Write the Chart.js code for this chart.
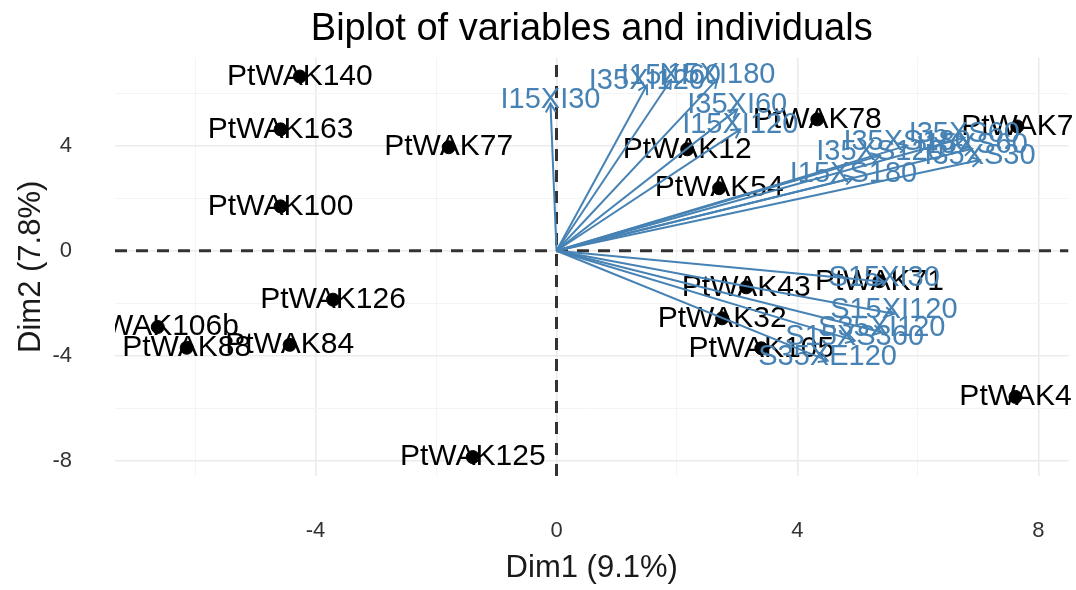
<!DOCTYPE html>
<html>
<head>
<meta charset="utf-8">
<script src="https://cdn.jsdelivr.net/npm/chart.js@4.4.1/dist/chart.umd.min.js"></script>
<style>
html, body { margin: 0; padding: 0; background: #fff; }
#wrap { width: 1076px; height: 590px; }
</style>
</head>
<body>
<div id="wrap"><canvas id="biplot"></canvas></div>
<script>
// Individuals (Dim1, Dim2)
const indNames = ['PtWAK140', 'PtWAK163', 'PtWAK77', 'PtWAK100', 'PtWAK126', 'PtWAK106b', 'PtWAK88', 'PtWAK84', 'PtWAK125',
    'PtWAK12', 'PtWAK54', 'PtWAK78', 'PtWAK7', 'PtWAK71', 'PtWAK43', 'PtWAK32', 'PtWAK105', 'PtWAK4'];
const indX = [-4.26, -4.58, -1.79, -4.58, -3.71, -6.62, -6.14, -4.43, -1.39, 2.17, 2.70, 4.33, 7.65, 5.36, 3.15, 2.75, 3.40, 7.62];
const indY = [6.63, 4.62, 3.94, 1.69, -1.86, -2.90, -3.69, -3.58, -7.85, 3.86, 2.38, 5.00, 4.73, -1.16, -1.39, -2.57, -3.71, -5.56];

// Variables (arrow tips)
const varNames = ['I15XI30', 'I35XI120', 'I15XI60', 'I15XI180', 'I35XI60', 'I15XI120',
    'I15XS180', 'I35XS120', 'I35XS180', 'I35XS60', 'I35XS30', 'I15XS60',
    'S15XI30', 'S15XI120', 'S35XI120', 'S15XS360', 'S35XE120'];
const varX = [-0.10, 1.50, 1.90, 2.67, 3.00, 3.05, 4.93, 5.37, 5.82, 6.77, 7.03, 6.90, 5.44, 5.60, 5.40, 4.95, 4.50];
const varY = [5.60, 6.30, 6.50, 6.53, 5.38, 4.62, 2.78, 3.62, 4.00, 4.30, 3.45, 3.88, -1.18, -2.40, -3.10, -3.42, -4.18];

const xRange = [-7.33, 8.5];
const yRange = [-8.57, 7.35];
const tickStep = 2;

const FONT = "'Liberation Sans', Arial, Helvetica, sans-serif";
const VAR_COLOR = '#4682B4';

const datasets = [];

// dashed reference lines
datasets.push({
    type: 'line',
    data: [{ x: xRange[0], y: 0 }, { x: xRange[1], y: 0 }],
    borderColor: '#333333', borderWidth: 3, borderDash: [12, 9],
    pointRadius: 0, order: 5
});
datasets.push({
    type: 'line',
    data: [{ x: 0, y: yRange[0] }, { x: 0, y: yRange[1] }],
    borderColor: '#333333', borderWidth: 3, borderDash: [12, 9],
    pointRadius: 0, order: 5
});

// individuals
datasets.push({
    id: 'ind',
    data: indX.map((x, i) => ({ x: x, y: indY[i] })),
    backgroundColor: '#000', borderColor: '#000',
    pointRadius: 6.5, pointHoverRadius: 6.5, order: 4
});

// variable arrows
varNames.forEach((name, i) => {
    datasets.push({
        type: 'line',
        data: [{ x: 0, y: 0 }, { x: varX[i], y: varY[i] }],
        borderColor: VAR_COLOR, borderWidth: 2,
        pointRadius: 0, order: 1
    });
});

// text is cut at the left edge of the panel only
function clipArea(chart) {
    const { ctx, chartArea } = chart;
    ctx.beginPath();
    ctx.rect(chartArea.left, chartArea.top, chart.width - chartArea.left, chartArea.bottom - chartArea.top);
    ctx.clip();
}

// labels + arrow heads
const biplotLabels = {
    id: 'biplotLabels',
    afterDatasetDraw(chart, args) {
        if (args.meta._dataset.id !== 'ind') return;
        const { ctx, scales } = chart;
        ctx.save();
        clipArea(chart);
        ctx.font = '30px ' + FONT;
        ctx.fillStyle = '#000';
        ctx.textAlign = 'center';
        ctx.textBaseline = 'middle';
        indNames.forEach((name, i) => {
            ctx.fillText(name, scales.x.getPixelForValue(indX[i]), scales.y.getPixelForValue(indY[i]));
        });
        ctx.restore();
    },
    afterDatasetsDraw(chart) {
        const { ctx, scales } = chart;
        ctx.save();
        clipArea(chart);

        const x0 = scales.x.getPixelForValue(0);
        const y0 = scales.y.getPixelForValue(0);
        ctx.strokeStyle = VAR_COLOR;
        ctx.lineWidth = 2;
        varNames.forEach((name, i) => {
            const px = scales.x.getPixelForValue(varX[i]);
            const py = scales.y.getPixelForValue(varY[i]);
            const a = Math.atan2(py - y0, px - x0);
            const len = 10;
            ctx.beginPath();
            ctx.moveTo(px - len * Math.cos(a - Math.PI / 6), py - len * Math.sin(a - Math.PI / 6));
            ctx.lineTo(px, py);
            ctx.lineTo(px - len * Math.cos(a + Math.PI / 6), py - len * Math.sin(a + Math.PI / 6));
            ctx.stroke();
        });

        ctx.font = '29px ' + FONT;
        ctx.fillStyle = VAR_COLOR;
        ctx.textAlign = 'center';
        ctx.textBaseline = 'middle';
        varNames.forEach((name, i) => {
            ctx.fillText(name, scales.x.getPixelForValue(varX[i]), scales.y.getPixelForValue(varY[i]) - 4);
        });
        ctx.restore();
    }
};

const isStep = v => Math.abs(v / tickStep - Math.round(v / tickStep)) < 1e-6;
const isMajor = v => Math.abs(v / 4 - Math.round(v / 4)) < 1e-6;

const gridOpts = {
    drawTicks: false,
    color: c => !isStep(c.tick.value) ? 'rgba(0,0,0,0)' : (isMajor(c.tick.value) ? '#ebebeb' : '#f4f4f4'),
    lineWidth: c => isMajor(c.tick.value) ? 1.6 : 1
};

const ctx = document.getElementById('biplot').getContext('2d');
const chart = new Chart(ctx, {
    type: 'scatter',
    data: { datasets: datasets },
    options: {
        responsive: true,
        maintainAspectRatio: false,
        animation: false,
        devicePixelRatio: 1,
        layout: { padding: { left: 0, right: 6, top: 0, bottom: 0 } },
        plugins: {
            legend: { display: false },
            tooltip: { enabled: false },
            title: {
                display: true,
                text: 'Biplot of variables and individuals',
                fullSize: false,
                color: '#000',
                font: { family: FONT, size: 38, weight: 'normal' },
                padding: { top: 7, bottom: 5 }
            }
        },
        scales: {
            x: {
                type: 'linear',
                min: xRange[0],
                max: xRange[1],
                border: { display: false },
                grid: gridOpts,
                ticks: {
                    stepSize: tickStep,
                    includeBounds: false,
                    autoSkip: false,
                    maxRotation: 0,
                    padding: 42,
                    color: '#333333',
                    font: { family: FONT, size: 22 },
                    callback: v => isMajor(v) ? String(v) : ''
                },
                title: {
                    display: true,
                    text: 'Dim1 (9.1%)',
                    color: '#1a1a1a',
                    font: { family: FONT, size: 31 },
                    padding: { top: 0, bottom: 3 }
                },
                afterFit: s => { s.height = 114; s.paddingLeft = 0; s.paddingRight = 0; }
            },
            y: {
                type: 'linear',
                min: yRange[0],
                max: yRange[1],
                border: { display: false },
                grid: gridOpts,
                ticks: {
                    stepSize: tickStep,
                    includeBounds: false,
                    autoSkip: false,
                    padding: 43,
                    color: '#333333',
                    font: { family: FONT, size: 22 },
                    callback: v => isMajor(v) ? String(v) : ''
                },
                title: {
                    display: true,
                    text: 'Dim2 (7.8%)',
                    color: '#1a1a1a',
                    font: { family: FONT, size: 31 },
                    padding: { top: 13, bottom: 0 }
                },
                afterFit: s => { s.width = 115; s.paddingTop = 0; s.paddingBottom = 0; }
            }
        }
    },
    plugins: [biplotLabels]
});
</script>
</body>
</html>
